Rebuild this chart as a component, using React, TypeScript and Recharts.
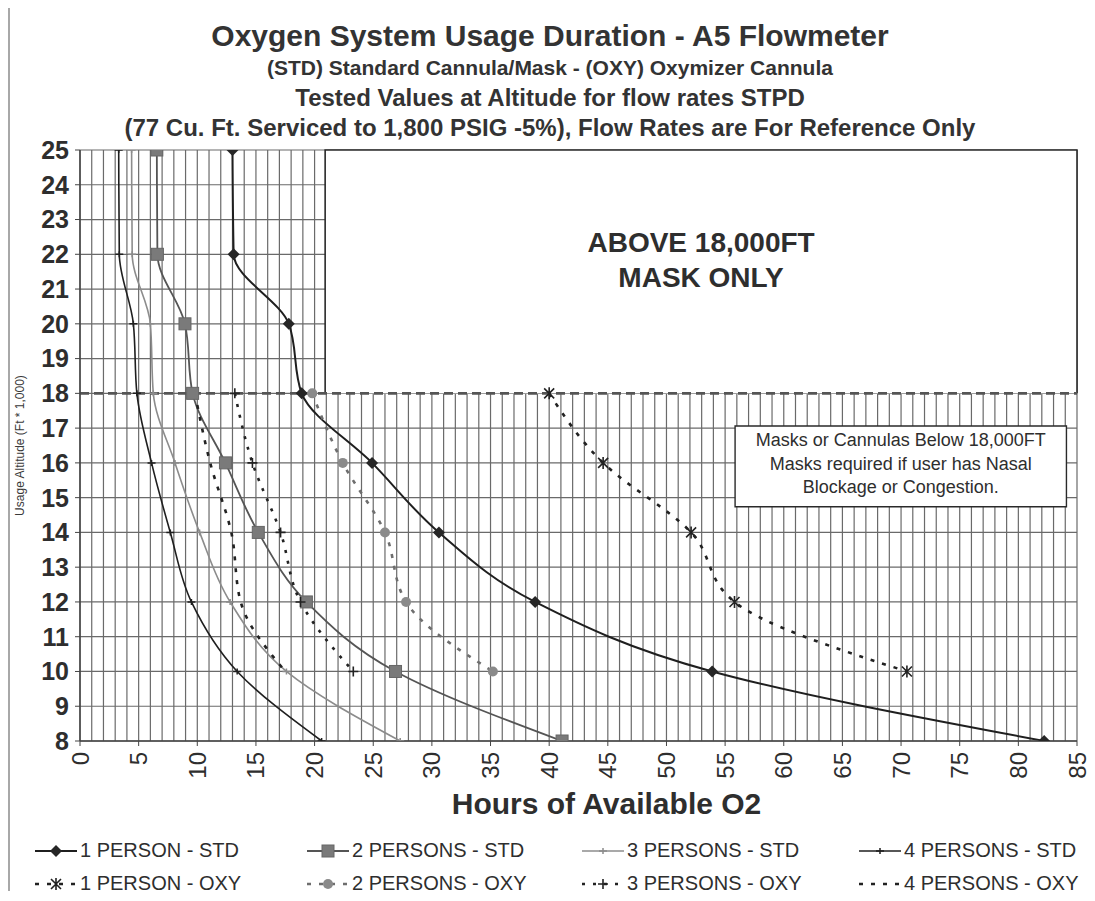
import React from 'react';
import { LineChart, Line, XAxis, YAxis, CartesianGrid, ReferenceArea, ReferenceLine, Legend, Label } from 'recharts';

// ---- data (hours of available O2 at each usage altitude, ft*1000) ----
const stdAltitudes = [25, 22, 20, 18, 16, 14, 12, 10, 8];
const oxyAltitudes = [18, 16, 14, 12, 10];

const onePersonStd = [13.0, 13.1, 17.8, 18.9, 24.9, 30.6, 38.8, 53.9, 82.2];
const twoPersonsStd = [6.55, 6.6, 8.95, 9.6, 12.4, 15.2, 19.3, 26.9, 41.1];
const threePersonsStd = [4.4, 4.45, 6.0, 6.25, 8.1, 10.2, 12.8, 17.6, 27.3];
const fourPersonsStd = [3.3, 3.35, 4.55, 4.85, 6.1, 7.7, 9.5, 13.4, 20.6];

const onePersonOxy = [40.0, 44.6, 52.1, 55.8, 70.5];
const twoPersonsOxy = [19.8, 22.4, 26.0, 27.8, 35.2];
const threePersonsOxy = [13.2, 14.7, 17.1, 18.8, 23.3];
const fourPersonsOxy = [9.8, 11.1, 12.9, 13.7, 17.5];

const hourTicks = [0, 5, 10, 15, 20, 25, 30, 35, 40, 45, 50, 55, 60, 65, 70, 75, 80, 85];
const hourGridValues = [
  0, 1, 2, 3, 4, 5, 6, 7, 8, 9, 10, 11, 12, 13, 14, 15, 16, 17, 18, 19, 20, 21, 22, 23, 24, 25, 26, 27, 28, 29,
  30, 31, 32, 33, 34, 35, 36, 37, 38, 39, 40, 41, 42, 43, 44, 45, 46, 47, 48, 49, 50, 51, 52, 53, 54, 55, 56, 57,
  58, 59, 60, 61, 62, 63, 64, 65, 66, 67, 68, 69, 70, 71, 72, 73, 74, 75, 76, 77, 78, 79, 80, 81, 82, 83, 84, 85,
];
const altitudeTicks = [8, 9, 10, 11, 12, 13, 14, 15, 16, 17, 18, 19, 20, 21, 22, 23, 24, 25];

const maskOnlyBox = { x1: 20.9, x2: 85, y1: 18, y2: 25 };
const noteBox = { x1: 55.85, x2: 84.1, y1: 14.74, y2: 17.06 };
const maskLimit = 18;

const titleLines = [
  'Oxygen System Usage Duration - A5 Flowmeter',
  '(STD) Standard Cannula/Mask - (OXY) Oxymizer Cannula',
  'Tested Values at Altitude for flow rates STPD',
  '(77 Cu. Ft. Serviced to 1,800 PSIG -5%), Flow Rates are For Reference Only',
];
const noteLines = ['Masks or Cannulas Below 18,000FT', 'Masks required if user has Nasal', 'Blockage or Congestion.'];
const maskOnlyLines = ['ABOVE 18,000FT', 'MASK ONLY'];

const toPoints = (alts: number[], hours: number[]) => alts.map((alt, i) => ({ alt, hours: hours[i] }));

type MarkerKind = 'diamond' | 'square' | 'plus' | 'smallplus' | 'star' | 'circle' | 'none';

const series = [
  { key: 's1', name: '1 PERSON - STD', data: toPoints(stdAltitudes, onePersonStd), stroke: '#1f1f1f', width: 2, dash: undefined, marker: 'diamond' as MarkerKind },
  { key: 's2', name: '2 PERSONS - STD', data: toPoints(stdAltitudes, twoPersonsStd), stroke: '#555555', width: 1.8, dash: undefined, marker: 'square' as MarkerKind },
  { key: 's3', name: '3 PERSONS - STD', data: toPoints(stdAltitudes, threePersonsStd), stroke: '#8c8c8c', width: 1.6, dash: undefined, marker: 'smallplus' as MarkerKind },
  { key: 's4', name: '4 PERSONS - STD', data: toPoints(stdAltitudes, fourPersonsStd), stroke: '#1f1f1f', width: 1.6, dash: undefined, marker: 'smallplus' as MarkerKind },
  { key: 'o1', name: '1 PERSON - OXY', data: toPoints(oxyAltitudes, onePersonOxy), stroke: '#222222', width: 2.6, dash: '4 8', marker: 'star' as MarkerKind },
  { key: 'o2', name: '2 PERSONS - OXY', data: toPoints(oxyAltitudes, twoPersonsOxy), stroke: '#6e6e6e', width: 2.6, dash: '4 8', marker: 'circle' as MarkerKind },
  { key: 'o3', name: '3 PERSONS - OXY', data: toPoints(oxyAltitudes, threePersonsOxy), stroke: '#222222', width: 2.6, dash: '3 8', marker: 'plus' as MarkerKind },
  { key: 'o4', name: '4 PERSONS - OXY', data: toPoints(oxyAltitudes, fourPersonsOxy), stroke: '#222222', width: 2.6, dash: '4 8', marker: 'none' as MarkerKind },
];

const FONT = "'Liberation Sans', Arial, Helvetica, sans-serif";
const TEXT = '#2e2e2e';
const CHART_W = 1083;
const CHART_H = 885;

function Marker({ kind, cx, cy, color }: { kind: MarkerKind; cx: number; cy: number; color: string }) {
  if (cx == null || cy == null) return null;
  switch (kind) {
    case 'diamond':
      return <path d={`M${cx},${cy - 6}L${cx + 6},${cy}L${cx},${cy + 6}L${cx - 6},${cy}Z`} fill="#262626" />;
    case 'square':
      return <rect x={cx - 6} y={cy - 6} width={12} height={12} fill="#7a7a7a" stroke="#666" strokeWidth={1} />;
    case 'smallplus':
      return <path d={`M${cx - 4},${cy}H${cx + 4}M${cx},${cy - 3}V${cy + 3}`} stroke={color} strokeWidth={1.5} fill="none" />;
    case 'plus':
      return <path d={`M${cx - 5},${cy}H${cx + 5}M${cx},${cy - 5}V${cy + 5}`} stroke={color} strokeWidth={1.6} fill="none" />;
    case 'star':
      return (
        <path
          d={`M${cx - 5},${cy - 5}L${cx + 5},${cy + 5}M${cx - 5},${cy + 5}L${cx + 5},${cy - 5}M${cx},${cy - 6}V${cy + 6}`}
          stroke={color}
          strokeWidth={1.6}
          fill="none"
        />
      );
    case 'circle':
      return <circle cx={cx} cy={cy} r={5} fill="#8a8a8a" />;
    default:
      return null;
  }
}

const makeDot = (kind: MarkerKind, color: string) => (props: any) => (
  <g key={props.key ?? `${props.index}`}>
    <Marker kind={kind} cx={props.cx} cy={props.cy} color={color} />
  </g>
);

const XTick = (props: any) => {
  const { x, y, payload } = props;
  return (
    <text
      x={x}
      y={y}
      transform={`rotate(-90 ${x} ${y})`}
      textAnchor="end"
      dominantBaseline="central"
      fontSize={24}
      fontFamily={FONT}
      fill={TEXT}
    >
      {payload.value}
    </text>
  );
};

const maskOnlyShape = (props: any) => {
  const { x, y, width, height } = props;
  return (
    <g>
      <rect x={x} y={y} width={width} height={height} fill="#ffffff" />
      <path d={`M${x},${y + height}V${y}H${x + width}V${y + height}`} stroke="#2a2a2a" strokeWidth={1.6} fill="none" />
    </g>
  );
};

const maskOnlyLabel = (props: any) => {
  const vb = props.viewBox || {};
  const cx = vb.x + vb.width / 2;
  return (
    <g>
      {maskOnlyLines.map((t, i) => (
        <text
          key={t}
          x={cx}
          y={vb.y + 92 + i * 35}
          textAnchor="middle"
          dominantBaseline="central"
          fontSize={28}
          fontWeight="bold"
          fontFamily={FONT}
          fill={TEXT}
        >
          {t}
        </text>
      ))}
    </g>
  );
};

const noteLabel = (props: any) => {
  const vb = props.viewBox || {};
  const cx = vb.x + vb.width / 2;
  return (
    <g>
      {noteLines.map((t, i) => (
        <text
          key={t}
          x={cx}
          y={vb.y + 14 + i * 23.5}
          textAnchor="middle"
          dominantBaseline="central"
          fontSize={18}
          fontFamily={FONT}
          fill={TEXT}
        >
          {t}
        </text>
      ))}
    </g>
  );
};

const yAxisLabel = (props: any) => {
  const vb = props.viewBox || {};
  const x = vb.x + 10;
  const y = vb.y + vb.height / 2;
  return (
    <text
      x={x}
      y={y}
      transform={`rotate(-90 ${x} ${y})`}
      textAnchor="middle"
      dominantBaseline="central"
      fontSize={12}
      fontFamily={FONT}
      fill="#3a3a3a"
    >
      Usage Altitude (Ft * 1,000)
    </text>
  );
};

const xAxisLabel = (props: any) => {
  const vb = props.viewBox || {};
  return (
    <text
      x={vb.x + vb.width / 2 + 28}
      y={vb.y + 62}
      textAnchor="middle"
      dominantBaseline="central"
      fontSize={30}
      fontWeight="bold"
      fontFamily={FONT}
      fill={TEXT}
    >
      Hours of Available O2
    </text>
  );
};

const renderLegend = () => (
  <div
    style={{
      display: 'grid',
      gridTemplateColumns: '272px 275px 277px 240px',
      paddingLeft: 25,
      fontFamily: FONT,
      color: TEXT,
    }}
  >
    {series.map((s) => (
      <div key={s.key} style={{ display: 'flex', alignItems: 'center', height: 33, whiteSpace: 'nowrap' }}>
        <svg width={42} height={20} style={{ flex: 'none' }}>
          <line x1={0} y1={10} x2={42} y2={10} stroke={s.stroke} strokeWidth={s.width} strokeDasharray={s.dash} />
          <Marker kind={s.marker} cx={21} cy={10} color={s.stroke} />
        </svg>
        <span style={{ fontSize: 20, marginLeft: 3 }}>{s.name}</span>
      </div>
    ))}
  </div>
);

const titleStyles = [
  { size: 30, center: 30 },
  { size: 21, center: 62 },
  { size: 24, center: 92 },
  { size: 24, center: 122 },
];

export default function App() {
  return (
    <div
      style={{
        position: 'relative',
        width: CHART_W,
        height: CHART_H,
        marginTop: -4,
        borderLeft: '2px solid #a8a8a8',
        borderTop: '2px solid #a8a8a8',
        background: '#fff',
        fontFamily: FONT,
      }}
    >
      <LineChart
        width={CHART_W}
        height={CHART_H}
        layout="vertical"
        margin={{ top: 144, right: CHART_W - 1067, bottom: 90, left: 0 }}
      >
        <CartesianGrid
          stroke="#6a6a6a"
          strokeWidth={1.2}
          verticalValues={hourGridValues}
          horizontalValues={altitudeTicks}
        />
        <XAxis
          type="number"
          dataKey="hours"
          domain={[0, 85]}
          ticks={hourTicks}
          interval={0}
          allowDataOverflow
          height={60}
          tickSize={5}
          tickMargin={6}
          tick={XTick}
          stroke="#444"
          axisLine={{ stroke: '#444', strokeWidth: 1.5 }}
          tickLine={{ stroke: '#444' }}
        >
          <Label content={xAxisLabel} />
        </XAxis>
        <YAxis
          type="number"
          dataKey="alt"
          domain={[8, 25]}
          ticks={altitudeTicks}
          interval={0}
          reversed
          allowDataOverflow
          width={70}
          tickSize={5}
          tickMargin={6}
          tick={{ fontSize: 25, fontWeight: 'bold', fill: TEXT, fontFamily: FONT }}
          axisLine={{ stroke: '#444', strokeWidth: 1.5 }}
          tickLine={{ stroke: '#444' }}
        >
          <Label content={yAxisLabel} />
        </YAxis>
        <ReferenceArea
          x1={maskOnlyBox.x1}
          x2={maskOnlyBox.x2}
          y1={maskOnlyBox.y1}
          y2={maskOnlyBox.y2}
          shape={maskOnlyShape}
          label={maskOnlyLabel}
          ifOverflow="visible"
        />
        <ReferenceArea
          x1={noteBox.x1}
          x2={noteBox.x2}
          y1={noteBox.y1}
          y2={noteBox.y2}
          fill="#ffffff"
          fillOpacity={1}
          stroke="#2a2a2a"
          strokeWidth={1.4}
          label={noteLabel}
          ifOverflow="visible"
        />
        <ReferenceLine y={maskLimit} stroke="#555" strokeWidth={2.6} strokeDasharray="9 5" ifOverflow="visible" />
        {series.map((s) => (
          <Line
            key={s.key}
            data={s.data}
            dataKey="hours"
            name={s.name}
            type="monotone"
            stroke={s.stroke}
            strokeWidth={s.width}
            strokeDasharray={s.dash}
            dot={makeDot(s.marker, s.stroke)}
            activeDot={false}
            isAnimationActive={false}
          />
        ))}
        <Legend
          layout="horizontal"
          verticalAlign="middle"
          align="center"
          content={renderLegend}
          wrapperStyle={{ top: 828, left: 0, width: CHART_W, height: 57 }}
        />
      </LineChart>
      {titleLines.map((t, i) => (
        <div
          key={t}
          style={{
            position: 'absolute',
            left: 0,
            width: 1080,
            top: titleStyles[i].center - 20,
            height: 40,
            lineHeight: '40px',
            textAlign: 'center',
            fontSize: titleStyles[i].size,
            fontWeight: 'bold',
            color: '#333',
            whiteSpace: 'nowrap',
            pointerEvents: 'none',
          }}
        >
          {t}
        </div>
      ))}
    </div>
  );
}
